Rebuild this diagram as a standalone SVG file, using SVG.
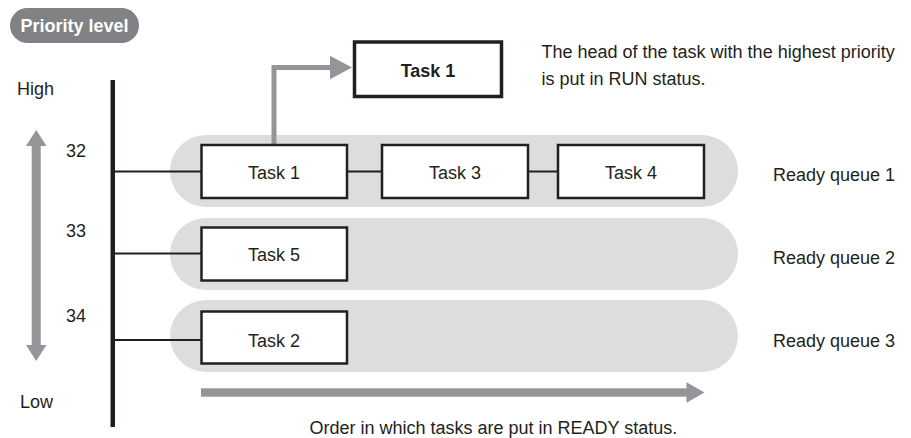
<svg xmlns="http://www.w3.org/2000/svg" width="911" height="438" viewBox="0 0 911 438">
<style>
text{font-family:"Liberation Sans",Arial,sans-serif;font-size:18px;fill:#231f20}
.task rect{fill:#fff;stroke:#231f20;stroke-width:2.5}
.task text{text-anchor:middle}
.queue{fill:#dcdddf}
.link{stroke:#231f20;stroke-width:2;fill:none}
.garrow{fill:#939598}
</style>
<rect width="911" height="438" fill="#fff"/>
<g id="priority-label">
<rect x="10" y="8" width="129" height="35" rx="17.5" fill="#808285"/>
<text x="74.5" y="31.5" style="font-weight:bold;fill:#fff;text-anchor:middle">Priority level</text>
</g>
<g id="axis">
<text x="17" y="95">High</text>
<text x="20" y="408">Low</text>
<text x="66" y="157">32</text>
<text x="66" y="237">33</text>
<text x="66" y="322">34</text>
<path class="garrow" d="M36.2,130 L46.5,146 L40.7,146 L40.7,345 L46.5,345 L36.2,361 L26,345 L31.7,345 L31.7,146 L26,146 Z"/>
<rect x="110.5" y="80" width="4.5" height="347" fill="#231f20"/>
</g>
<g id="queues">
<rect class="queue" x="170" y="135" width="568" height="72" rx="36"/>
<rect class="queue" x="170" y="218" width="568" height="72" rx="36"/>
<rect class="queue" x="170" y="300" width="568" height="72" rx="36"/>
<text x="773" y="181">Ready queue 1</text>
<text x="773" y="264">Ready queue 2</text>
<text x="773" y="347">Ready queue 3</text>
</g>
<g id="connectors">
<line class="link" x1="115" y1="171.5" x2="201" y2="171.5"/>
<line class="link" x1="347" y1="171.5" x2="382" y2="171.5"/>
<line class="link" x1="528" y1="171.5" x2="558" y2="171.5"/>
<line class="link" x1="115" y1="253.5" x2="201" y2="253.5"/>
<line class="link" x1="115" y1="340" x2="201" y2="340"/>
<path d="M274,145 L274,67.5 L332,67.5" fill="none" stroke="#939598" stroke-width="5"/>
<path class="garrow" d="M330,55.8 L352,67.5 L330,79.2 Z"/>
<rect class="garrow" x="201" y="388.3" width="487" height="8.4"/>
<path class="garrow" d="M686.5,382.3 L704.5,392.5 L686.5,402.7 Z"/>
</g>
<g id="task1" class="task"><rect x="201.5" y="145" width="145.5" height="53"/><text x="274" y="179">Task 1</text></g>
<g id="task3" class="task"><rect x="382" y="145" width="146" height="53"/><text x="455" y="179">Task 3</text></g>
<g id="task4" class="task"><rect x="558" y="145" width="146" height="53"/><text x="631" y="179">Task 4</text></g>
<g id="task5" class="task"><rect x="201.5" y="227.5" width="145.5" height="53"/><text x="274" y="261">Task 5</text></g>
<g id="task2" class="task"><rect x="201.5" y="311.5" width="145.5" height="52"/><text x="274" y="347">Task 2</text></g>
<g id="run-task1"><rect x="354.5" y="42" width="147" height="54.5" fill="#fff" stroke="#231f20" stroke-width="3.5"/><text x="428" y="76.5" style="font-weight:bold;text-anchor:middle">Task 1</text></g>
<g id="notes">
<text x="541.5" y="57.5">The head of the task with the highest priority</text>
<text x="541.5" y="85">is put in RUN status.</text>
<text x="309.5" y="433.5">Order in which tasks are put in READY status.</text>
</g>
</svg>
